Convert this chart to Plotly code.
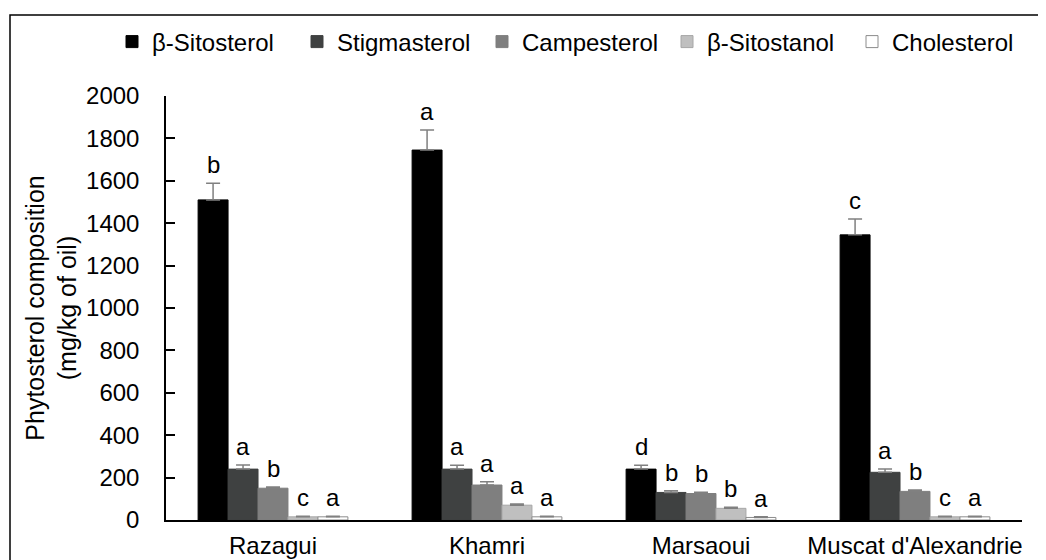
import plotly.graph_objects as go

categories = ["Razagui", "Khamri", "Marsaoui", "Muscat d'Alexandrie"]
series_names = ["β-Sitosterol", "Stigmasterol", "Campesterol", "β-Sitostanol", "Cholesterol"]

sitosterol = [1510, 1745, 240, 1345]
stigmasterol = [240, 240, 130, 225]
campesterol = [150, 165, 125, 135]
sitostanol = [15, 70, 55, 15]
cholesterol = [15, 15, 12, 15]

sitosterol_err = [78, 95, 18, 75]
stigmasterol_err = [20, 18, 8, 15]
campesterol_err = [6, 15, 6, 6]
sitostanol_err = [3, 5, 5, 3]
cholesterol_err = [3, 3, 3, 3]

sitosterol_letters = ["b", "a", "d", "c"]
stigmasterol_letters = ["a", "a", "b", "a"]
campesterol_letters = ["b", "a", "b", "b"]
sitostanol_letters = ["c", "a", "b", "c"]
cholesterol_letters = ["a", "a", "a", "a"]

values = [sitosterol, stigmasterol, campesterol, sitostanol, cholesterol]
errors = [sitosterol_err, stigmasterol_err, campesterol_err, sitostanol_err, cholesterol_err]
letters = [sitosterol_letters, stigmasterol_letters, campesterol_letters, sitostanol_letters, cholesterol_letters]
fills = ["#000000", "#3f4141", "#7f7f7f", "#bfbfbf", "#ffffff"]
outlines = ["#000000", "#3f4141", "#7f7f7f", "#a6a6a6", "#8c8c8c"]

FONT = "Liberation Sans, Arial, sans-serif"
# page body has an 8px margin; size the figure so it fits the 1046x560 window
W, H = 1038, 552
ML, MR, MT, MB = 158, 24, 88, 40
plot_w = W - ML - MR
plot_h = H - MT - MB
bargap = 0.3
bar_px = plot_w / len(categories) * (1 - bargap) / len(series_names)

fig = go.Figure()
for i, name in enumerate(series_names):
    fig.add_trace(go.Bar(
        name=name, x=categories, y=values[i],
        marker=dict(color=fills[i], line=dict(color=outlines[i], width=1)),
        error_y=dict(type="data", array=errors[i], arrayminus=[0] * len(categories),
                     color="#808080", thickness=1.5, width=7),
    ))

annotations = []
for i in range(len(series_names)):
    for j, cat in enumerate(categories):
        annotations.append(dict(
            x=cat, y=values[i][j] + errors[i][j], xref="x", yref="y",
            text=letters[i][j], showarrow=False, yanchor="bottom",
            xshift=(i - 2) * bar_px, yshift=3,
            font=dict(family=FONT, size=24, color="#000000"),
        ))

px2paper_x = lambda p: (p - ML) / plot_w
px2paper_y = lambda p: (H - MB - p) / plot_h

fig.add_shape(type="rect", xref="paper", yref="paper",
              x0=px2paper_x(2), x1=px2paper_x(W + 20),
              y0=px2paper_y(H + 20), y1=px2paper_y(7),
              line=dict(color="#000000", width=1.5), fillcolor="rgba(0,0,0,0)", layer="below")

fig.update_layout(
    width=W, height=H,
    margin=dict(l=ML, r=MR, t=MT, b=MB, autoexpand=False),
    paper_bgcolor="white", plot_bgcolor="white",
    barmode="group", bargap=bargap, bargroupgap=0,
    font=dict(family=FONT, size=24, color="#000000"),
    annotations=annotations,
    legend=dict(orientation="h", x=px2paper_x(104), xanchor="left",
                y=px2paper_y(34), yanchor="middle",
                font=dict(family=FONT, size=24), itemwidth=30,
                entrywidth=140, entrywidthmode="pixels",
                bgcolor="rgba(0,0,0,0)", tracegroupgap=0),
    xaxis=dict(showline=True, linecolor="#000000", linewidth=2, ticks="",
               showgrid=False, tickfont=dict(family=FONT, size=24),
               ticklabelstandoff=3),
    yaxis=dict(range=[0, 2000], tickvals=list(range(0, 2001, 200)),
               showline=True, linecolor="#000000", linewidth=1.5,
               ticks="inside", ticklen=9, tickcolor="#000000", tickwidth=1.5,
               showgrid=False, zeroline=False,
               tickfont=dict(family=FONT, size=24), ticklabelstandoff=20,
               title=dict(text="Phytosterol composition<br>(mg/kg of oil)",
                          font=dict(family=FONT, size=25), standoff=2)),
)

fig.write_html("out.html")
